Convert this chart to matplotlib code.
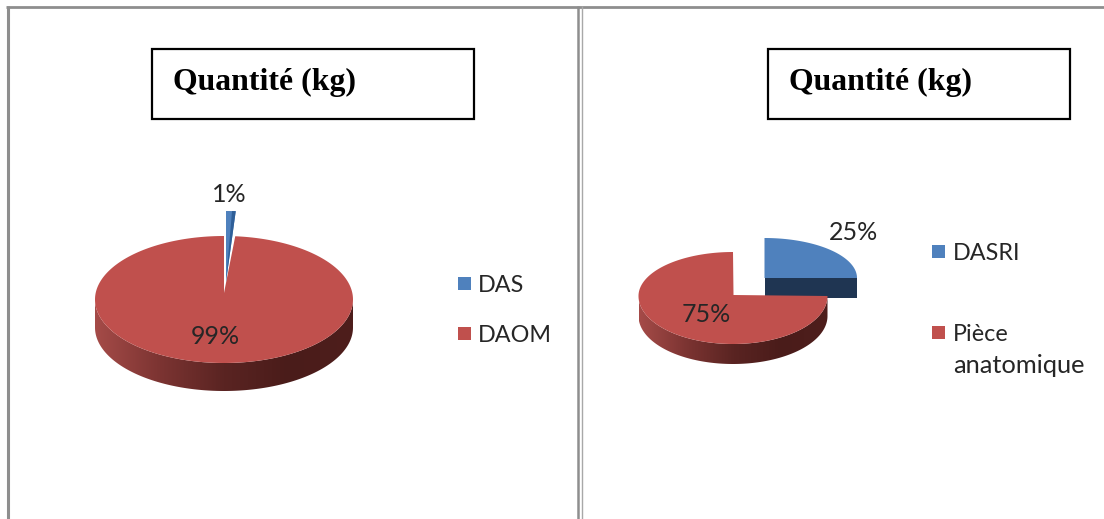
import numpy as np
import matplotlib
matplotlib.use("Agg")
import matplotlib.pyplot as plt
from matplotlib.colors import LinearSegmentedColormap
from matplotlib.patches import Polygon, Rectangle

# Waste shares, in percent
left_labels = ["DAS", "DAOM"]
left_values = [1, 99]
right_labels = ["DASRI", "Pièce\nanatomique"]
right_values = [25, 75]
panel_title = "Quantité (kg)"

BLUE = "#4F81BD"
BLUE_SHADE = "#2F5F98"
BLUE_CUT = "#1F3552"
RED = "#C0504D"
INK = "#262626"
FRAME = "#8E8E8E"
SANS = "Lato"

side_cmap = LinearSegmentedColormap.from_list(
    "side", ["#A54B48", "#7C3432", "#5A2422", "#4A1C1A", "#4E1E1C"])

fig = plt.figure(figsize=(11.04, 5.19), dpi=100)
ax = fig.add_axes([0, 0, 1, 1])


def rim(theta, cx, cy, rx, ry):
    """Rim points of a tilted disc; theta runs clockwise from twelve o'clock.

    ry may be a (back, front) pair, since the near half looks deeper.
    """
    back, front = (ry, ry) if np.isscalar(ry) else ry
    c = np.cos(theta)
    return np.column_stack([cx + rx * np.sin(theta), cy - np.where(c > 0, back, front) * c])


def top_face(start, stop, apex, cx, cy, rx, ry, color, z):
    arc = rim(np.linspace(start, stop, 240), cx, cy, rx, ry)
    ax.add_patch(Polygon(np.vstack([apex, arc]), closed=True, fc=color, ec="none", zorder=z))


def side_wall(start, stop, cx, cy, rx, ry, depth, z):
    """Front wall of the disc, shaded from left to right."""
    arc = rim(np.linspace(start, stop, 240), cx, cy, rx, ry)
    wall = np.vstack([arc, (arc + [0, depth])[::-1]])
    clip = Polygon(wall, closed=True, fc="none", ec="none", transform=ax.transData)
    ax.add_patch(clip)
    img = ax.imshow(np.linspace(0, 1, 256)[None, :], cmap=side_cmap, aspect="auto",
                    extent=[cx - rx, cx + rx, 519, 0], zorder=z)
    img.set_clip_path(clip)


def fractions(values):
    v = np.asarray(values, dtype=float)
    return np.cumsum(v) / v.sum() * 2 * np.pi


# Left pie: a sliver pulled away from the main disc
a_left = fractions(left_values)[0]
side_wall(np.pi / 2, 3 * np.pi / 2, 224, 299.5, 129, 63.5, 28, 1)
top_face(a_left + np.radians(1.4), 2 * np.pi, (224, 293), 224, 299.5, 129, 63.5, RED, 2)
top_face(0, a_left, (226, 282), 226, 282, 155, 71, BLUE, 3)
top_face(a_left * 0.62, a_left, (226, 282), 226, 282, 155, 71, BLUE_SHADE, 4)

# Right pie: the quarter slice is pulled towards the upper right
a_right = fractions(right_values)[0]
top_face(0, a_right, (764.5, 278), 764.5, 278, 92.5, 40, BLUE, 1)
ax.add_patch(Rectangle((765, 278), 92, 20, fc=BLUE_CUT, ec="none", zorder=1))
side_wall(a_right, 3 * np.pi / 2, 733, 296, 94.5, (44, 48), 20, 2)
top_face(a_right, 2 * np.pi, (733.5, 295), 733, 296, 94.5, (44, 48), RED, 3)

# Value labels
label_pos = [(229, 194), (215, 336), (853.5, 233), (706, 315)]
label_val = left_values + right_values
for (x, y), v in zip(label_pos, label_val):
    ax.text(x, y, f"{v}%", ha="center", va="center", family=SANS, fontsize=18,
            color=INK, zorder=6)

# Legends: (square x, row y, text x, colour, label)
legend_rows = [
    (458, 283.5, 478, BLUE, left_labels[0]),
    (458, 333, 478, RED, left_labels[1]),
    (932, 251.5, 953, BLUE, right_labels[0]),
    (932, 332.5, 953, RED, right_labels[1]),
]
for sx, y, tx, color, text in legend_rows:
    ax.add_patch(Rectangle((sx, y - 6.5), 13, 13, fc=color, ec="none", zorder=5))
    for i, line in enumerate(text.split("\n")):
        ax.text(tx, y + 2 + i * 31, line, ha="left", va="center", family=SANS,
                fontsize=18.3 if line.islower() else 16.8, color=INK, zorder=6)

# Title boxes
for x0, x1, tx in [(152, 474, 173), (768, 1070, 789)]:
    ax.add_patch(Rectangle((x0, 49), x1 - x0, 70, fc="white", ec="black", lw=1.6, zorder=5))
    ax.text(tx, 90, panel_title, ha="left", va="baseline", family="Liberation Serif",
            weight="bold", fontsize=22.9, color="black", zorder=6)

# Panel frame
ax.plot([7.5, 7.5], [519, 6], color=FRAME, lw=2.2, solid_capstyle="butt", zorder=7)
ax.plot([6, 1104], [7, 7], color=FRAME, lw=2.0, solid_capstyle="butt", zorder=7)
ax.plot([577.5, 577.5], [519, 6], color=FRAME, lw=1.8, solid_capstyle="butt", zorder=7)
ax.plot([581.5, 581.5], [519, 6], color="#A8A8A8", lw=1.0, solid_capstyle="butt", zorder=7)

ax.set_xlim(0, 1104)
ax.set_ylim(519, 0)
ax.axis("off")
fig.savefig("out.png", dpi=100, facecolor="white")
